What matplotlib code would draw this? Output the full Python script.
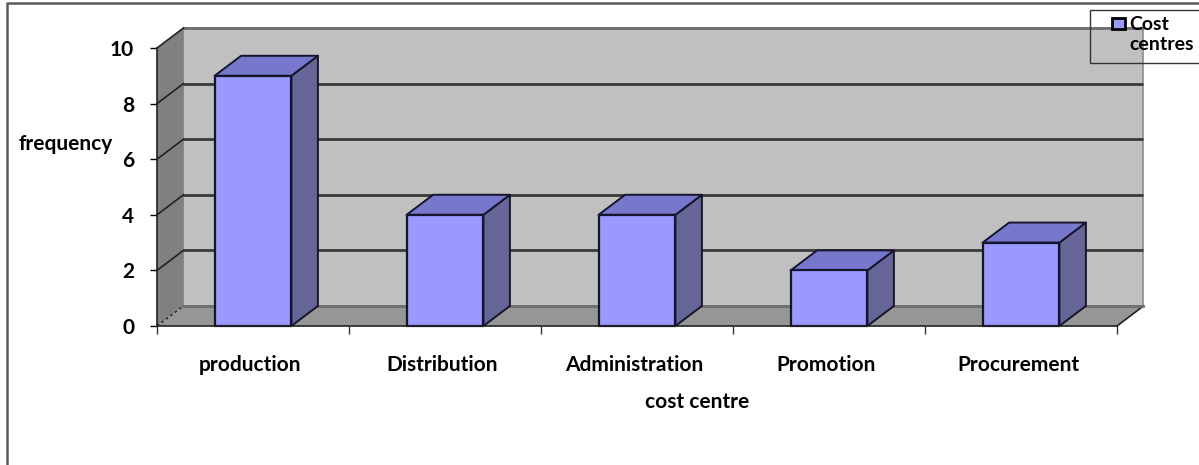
import matplotlib
matplotlib.use('Agg')
import matplotlib.pyplot as plt
from matplotlib.lines import Line2D
from matplotlib.patches import Polygon, Rectangle

categories = ['production', 'Distribution', 'Administration', 'Promotion', 'Procurement']
frequency = [9, 4, 4, 2, 3]
y_ticks = [0, 2, 4, 6, 8, 10]

W, H = 1199, 465
# depth of the fake 3d box, in data units
DX = 0.138
DY = 0.72
BAR_W = 0.40

plt.rcParams['font.family'] = ['Lato', 'DejaVu Sans']
plt.rcParams['font.weight'] = 'bold'
plt.rcParams['axes.labelweight'] = 'bold'

fig = plt.figure(figsize=(W / 100, H / 100), dpi=100)
ax = fig.add_axes([157 / W, 1 - 326 / H, 960 / W, 278 / H])
ax.set_xlim(-0.5, 4.5)
ax.set_ylim(0, 10)
ax.patch.set_visible(False)


def face(points, color, z, edge='none', lw=0):
    ax.add_patch(Polygon(points, closed=True, facecolor=color, edgecolor=edge,
                         linewidth=lw, zorder=z, clip_on=False, joinstyle='round'))


x0, x1 = ax.get_xlim()
# back wall, left wall, floor
face([(x0 + DX, DY), (x1 + DX, DY), (x1 + DX, 10 + DY), (x0 + DX, 10 + DY)], '#c0c0c0', 1, '#8c8c8c', 1.2)
face([(x0, 0), (x0 + DX, DY), (x0 + DX, 10 + DY), (x0, 10)], '#808080', 1)
face([(x0, 0), (x1, 0), (x1 + DX, DY), (x0 + DX, DY)], '#969696', 1)
ax.plot([x1, x1 + DX], [0, DY], color='#222222', lw=1.2, zorder=2, clip_on=False)

# gridlines run along the back wall and down the side wall
for v in y_ticks[1:]:
    ax.plot([x0 + DX, x1 + DX - 0.005], [v + DY, v + DY], color='#6e6e6e' if v == 10 else '#3a3a3a', lw=2,
            zorder=2, clip_on=False, solid_capstyle='butt')
    ax.plot([x0, x0 + DX], [v, v + DY], color='#222222', lw=1.2, zorder=2, clip_on=False)
ax.plot([x0 + DX, x1 + DX], [DY, DY], color='#6e6e6e', lw=2, zorder=2, clip_on=False)
ax.plot([x0, x0 + DX], [0, DY], color='#222222', lw=1, ls=(0, (2, 2)), zorder=2, clip_on=False)

# side and top of each bar
for i, val in enumerate(frequency):
    l, r = i - BAR_W / 2, i + BAR_W / 2
    face([(r, 0), (r + DX, DY), (r + DX, val + DY), (r, val)], '#666699', 3, '#15152e', 1.4)
    face([(l, val), (r, val), (r + DX, val + DY), (l + DX, val + DY)], '#7777cc', 3, '#15152e', 1.4)

ax.bar(range(len(categories)), frequency, width=BAR_W, color='#9999ff', edgecolor='#15152e',
       linewidth=1.6, zorder=4, label='Cost\ncentres', clip_on=False)

ax.set_yticks(y_ticks)
ax.set_xticks([i - 0.5 for i in range(len(categories) + 1)])
ax.set_xticklabels([])
ax.tick_params(axis='y', length=5, width=1, pad=11.5, labelsize=15)
ax.tick_params(axis='x', length=6, width=1, color='#333333')
for lab in ax.get_yticklabels():
    lab.set_fontweight('bold')
for i, name in enumerate(categories):
    ax.annotate(name, xy=(i, 0), xytext=(-3, -39), xycoords=('data', 'axes fraction'),
                textcoords='offset pixels', ha='center', va='center', fontsize=15, fontweight='bold')

for side in ['top', 'right']:
    ax.spines[side].set_visible(False)
for side in ['left', 'bottom']:
    ax.spines[side].set_color('#222222')
    ax.spines[side].set_linewidth(1.2)
    ax.spines[side].set_zorder(5)

ax.set_xlabel('cost centre', fontsize=15)
ax.xaxis.set_label_coords((697 - 157) / 960, -(402 - 326) / 278, transform=ax.transAxes)
ax.xaxis.label.set_va('center')
ax.set_ylabel('frequency', fontsize=15, rotation=0, ha='center', va='center')
ax.yaxis.set_label_coords((66 - 157) / 960, (326 - 144) / 278, transform=ax.transAxes)

# outer picture frame (only left and top show)
fig.add_artist(Line2D([7 / W, 7 / W, 1], [0, 1 - 3 / H, 1 - 3 / H], color='#5a5a5a', lw=1.8))

# legend box runs off the right edge
fig.add_artist(Rectangle((1090 / W, 1 - 63 / H), 120 / W, 53 / H, transform=fig.transFigure,
                         facecolor='none', edgecolor='#333333', lw=1, zorder=6))
leg = ax.legend(loc='upper left', bbox_to_anchor=(1112 / W, 1 - 16 / H), bbox_transform=fig.transFigure,
                frameon=False, fontsize=14, handlelength=0.65, handleheight=1.6, handletextpad=0.25,
                labelspacing=0, borderaxespad=0, borderpad=0)
leg.set_zorder(7)
for h in leg.legend_handles:
    # square swatch next to the first line only
    h.set_height(8)
    h.set_y(h.get_y() + 13)
    h.set_linewidth(2)
    h.set_edgecolor('black')

fig.savefig('out.png', dpi=100)
